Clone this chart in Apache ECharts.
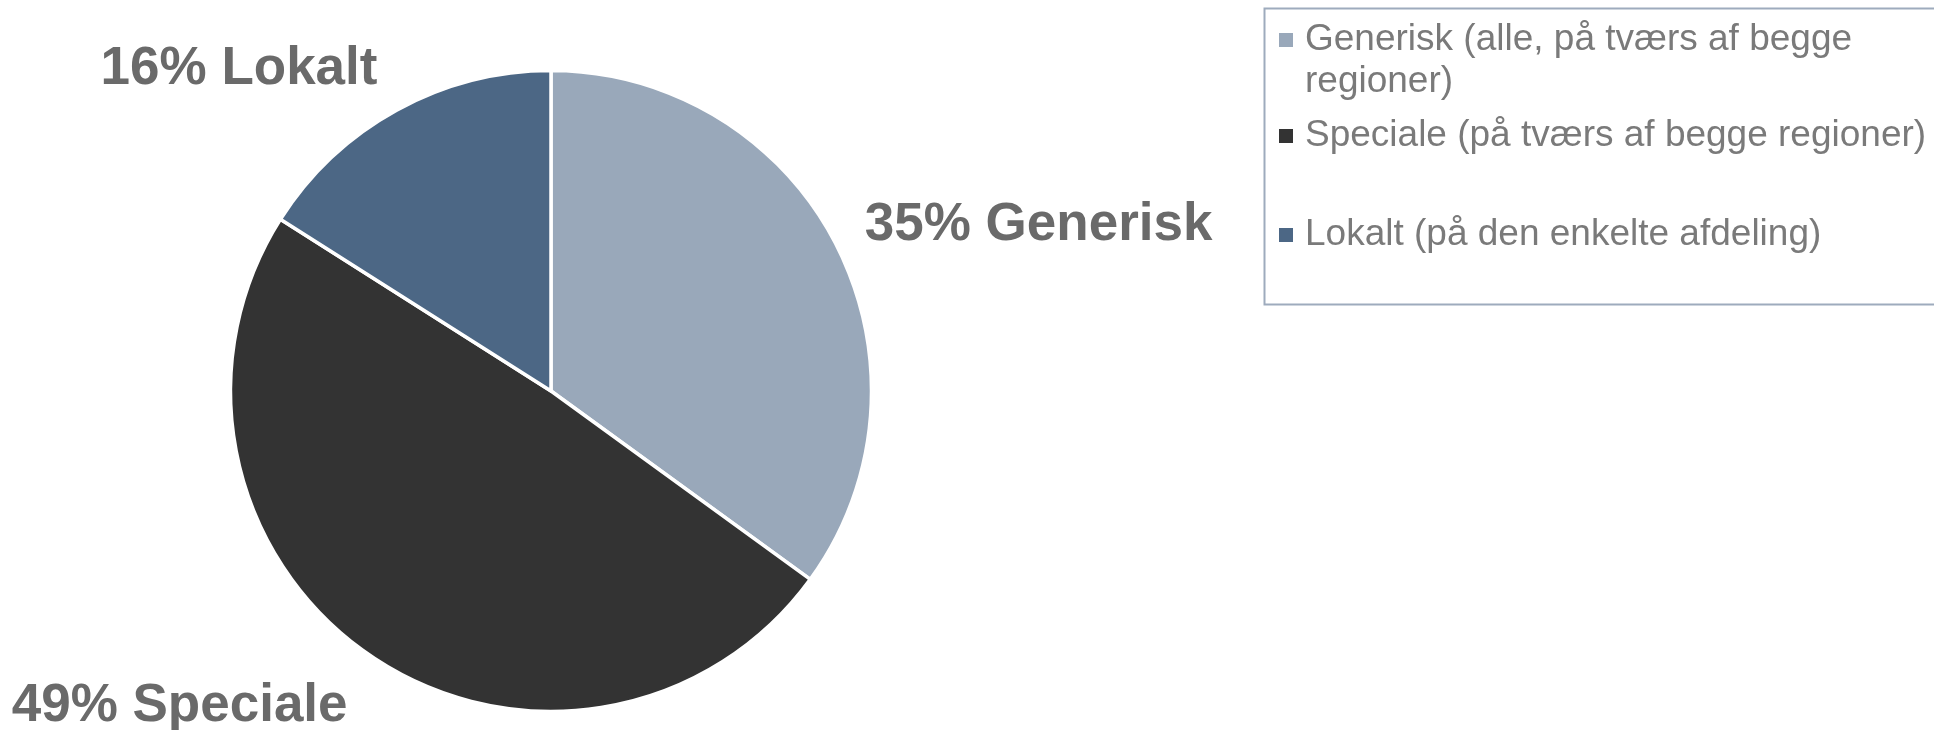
<!DOCTYPE html>
<html><head><meta charset="utf-8">
<script src="https://cdn.jsdelivr.net/npm/echarts@6/dist/echarts.min.js"></script>
<style>html,body{margin:0;padding:0;background:#fff}#c{width:1934px;height:730px}</style>
</head><body><div id="c"></div>
<script>
const categories = ['Generisk (alle, på tværs af begge regioner)', 'Speciale (på tværs af begge regioner)', 'Lokalt (på den enkelte afdeling)'];
const shortNames = ['Generisk', 'Speciale', 'Lokalt'];
const values = [35, 49, 16];
const colors = ['#99a8ba', '#333333', '#4c6785'];
const legendLines = [['Generisk (alle, på tværs af begge', 'regioner)'], ['Speciale (på tværs af begge regioner)'], ['Lokalt (på den enkelte afdeling)']];

const labelLen = [44, 61, 47];
const labelLen2 = [0, 0, 7.5];
const legendTops = [19, 115, 214];
const legendFont = {fontFamily: 'Liberation Sans, Arial', fontSize: 37, color: '#7a7a7a', lineHeight: 42, padding: [0, 0, 0, 7]};

const chart = echarts.init(document.getElementById('c'), null, {renderer: 'canvas'});
const legends = categories.map((c, i) => ({
  left: 1279, top: legendTops[i], padding: 0, orient: 'vertical',
  itemWidth: 14, itemHeight: i === 0 ? 84 : 14,
  itemStyle: {borderWidth: 0},
  data: [i === 0 ? {name: c, icon: 'path://M0,0M0,14L14,14L14,28L0,28ZM0,84'} : {name: c, icon: 'rect'}],
  formatter: n => legendLines[categories.indexOf(n)].join('\n'),
  textStyle: legendFont,
  selectedMode: false
}));

chart.setOption({
  animation: false,
  color: colors,
  legend: legends,
  graphic: [{type: 'rect', left: 1262, top: 6, shape: {width: 700, height: 296}, style: {fill: 'none', stroke: '#9eabbd', lineWidth: 2}, silent: true}],
  series: [{
    type: 'pie',
    center: [551, 391],
    radius: 320.5,
    startAngle: 90,
    clockwise: true,
    avoidLabelOverlap: false,
    itemStyle: {borderColor: '#ffffff', borderWidth: 3.5},
    label: {
      show: true, position: 'outside',
      formatter: p => values[p.dataIndex] + '% ' + shortNames[p.dataIndex],
      fontFamily: 'Liberation Sans, Arial', fontWeight: 'bold', fontSize: 53, color: '#6a6a6a',
      padding: [6, 0, 0, 0],
      distanceToLabelLine: -11
    },
    labelLine: {show: false, length2: 0},
    emphasis: {disabled: true},
    data: categories.map((c, i) => ({name: c, value: values[i], labelLine: {length: labelLen[i], length2: labelLen2[i], show: false}}))
  }]
});
</script></body></html>
